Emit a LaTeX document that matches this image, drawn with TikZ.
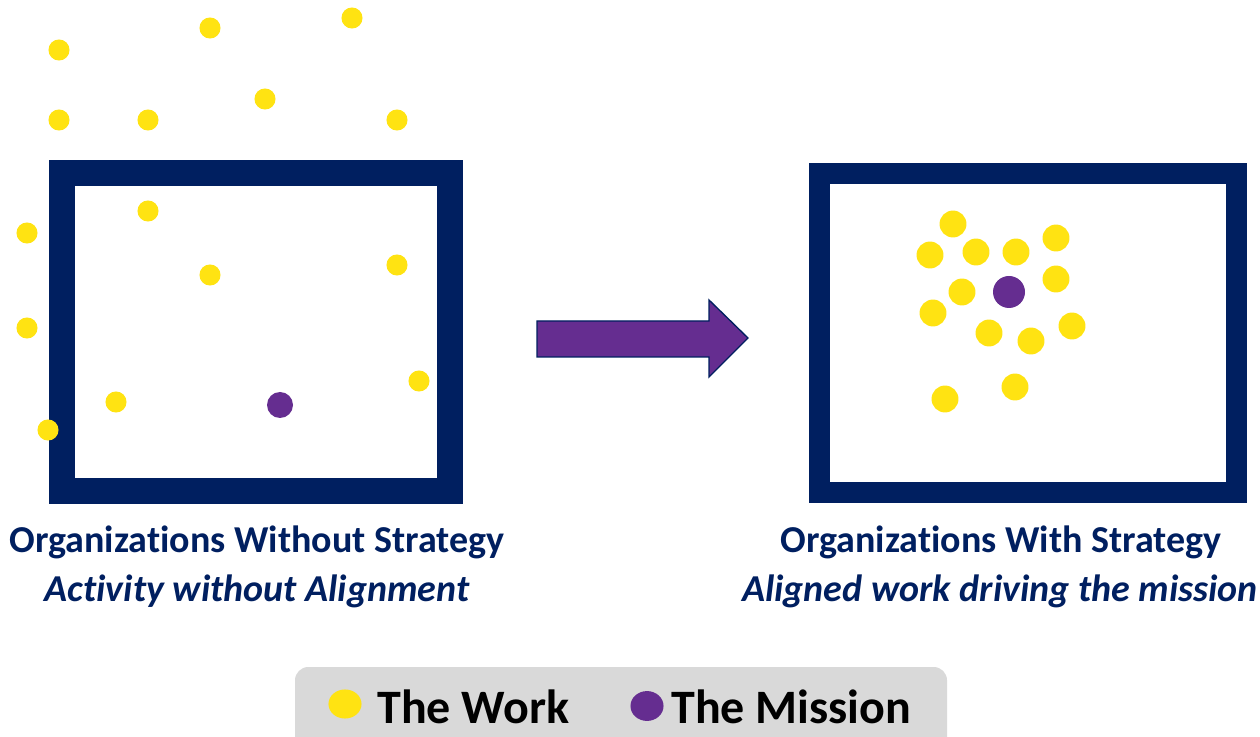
\documentclass[tikz,border=0pt]{standalone}
\usepackage{fontspec}
\setmainfont{Carlito}[Ligatures=NoCommon]

\definecolor{navy}{HTML}{001F60}
\definecolor{workyellow}{HTML}{FFE312}
\definecolor{missionpurple}{HTML}{652D90}
\definecolor{legendgray}{HTML}{D9D9D9}

\begin{document}
\begin{tikzpicture}[x=0.75pt,y=-0.75pt,
    orgbox/.style={draw=navy,line width=19.5pt},
    work/.style={fill=workyellow},
    mission/.style={fill=missionpurple},
    title/.style={anchor=base,text=navy,font=\fontsize{28.5}{34}\selectfont\bfseries},
    subtitle/.style={anchor=base,text=navy,font=\fontsize{28.5}{34}\selectfont\bfseries\itshape},
    legendtext/.style={anchor=base west,inner sep=0pt,font=\fontsize{36}{43}\selectfont\bfseries}]
      \useasboundingbox (0,0) rectangle (1260,737);
      % without strategy
      \draw[orgbox] (62,173) rectangle (450,491);
      \draw[orgbox,line width=15.75pt] (819.5,173.5) rectangle (1236.5,492.5);
      \foreach \x/\y in {59/50,210/28,352/18,59/120,148/120,265/99,397/120,
                         27/233,148/211,210/275,397/265,27/328,419/381,116/402,48/430}
        \fill[work] (\x,\y) circle (7.9pt);
      \fill[mission] (280,405) circle (9.75pt);
      % with strategy
      \foreach \x/\y in {953/224,930/255,976/252,1016/252,1056/238,1056/279,962/292,
                         933/313,989/333,1031/341,1072/326,1015/387,945/399}
        \fill[work] (\x,\y) circle (10.1pt);
      \fill[mission] (1009,292) circle (12pt);
      % arrow
      \filldraw[fill=missionpurple,draw=navy,line width=1pt]
        (537,321) -- (709,321) -- (709,300) -- (748,338) -- (709,377) -- (709,357) -- (537,357) -- cycle;
      \node[title] (lefttitle) at (257,552) {Organizations Without Strategy};
      \node[subtitle] (leftsub) at (257,601) {Activity without Alignment};
      \node[title] (righttitle) at (1001,552) {Organizations With Strategy};
      \node[subtitle] (rightsub) at (1000,601) {Aligned work driving the mission};
      % legend
      \fill[legendgray,rounded corners=10pt] (295,667) rectangle (947,770);
      \fill[work] (345,704) ellipse (12.4pt and 10.9pt);
      \fill[mission] (647,706) ellipse (12.4pt and 11.2pt);
      \node[legendtext] (worklabel) at (377,723) {The Work};
      \node[legendtext] (missionlabel) at (671,723) {The Mission};
    \end{tikzpicture}
\end{document}
